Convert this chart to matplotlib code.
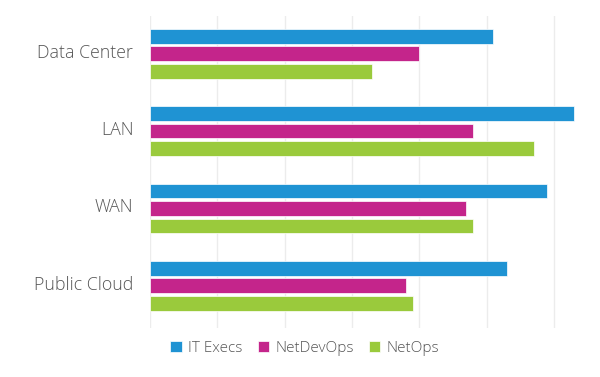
import matplotlib
matplotlib.use('Agg')
import matplotlib.pyplot as plt
import matplotlib.transforms as mtransforms
import numpy as np

plt.rcParams['font.family'] = ['Open Sans', 'DejaVu Sans']

# Data
categories = ['Data Center', 'LAN', 'WAN', 'Public Cloud']
series_names = ['IT Execs', 'NetDevOps', 'NetOps']
it_execs = [51, 63, 59, 53]
netdevops = [40, 48, 47, 38]
netops = [33, 57, 48, 39]
colors = ['#1f93d3', '#c4258b', '#9aca3c']

fig = plt.figure(figsize=(6, 3.77), dpi=100)
ax = fig.add_axes([0.25, 0.13, 0.718, 0.828])

y = np.arange(len(categories))
bar_h = 0.19
offset = 0.227
for i, (vals, name) in enumerate(zip([it_execs, netdevops, netops], series_names)):
    ax.barh(y + (i - 1) * offset, vals, height=bar_h, color=colors[i],
            edgecolor='white', linewidth=0.5, label=name, zorder=3)

ax.set_xlim(0, 64)
ax.set_ylim(3.545, -0.49)
ax.set_xticks(np.arange(0, 61, 10))
ax.set_xticklabels([])
ax.tick_params(axis='x', length=0)
ax.set_yticks(y)
ax.set_yticklabels(categories, fontsize=12.8, color='#555555', fontweight='light')
ax.tick_params(axis='y', length=0, pad=12)
# category labels sit slightly above the group centre
shift = mtransforms.ScaledTranslation(0, 3 / 100, fig.dpi_scale_trans)
for lab in ax.get_yticklabels():
    lab.set_transform(lab.get_transform() + shift)
ax.grid(axis='x', color='#ececec', linewidth=1, zorder=0)
for s in ax.spines.values():
    s.set_visible(False)

fig.legend(loc='center', bbox_to_anchor=(0.508, 0.075), ncol=3, frameon=False,
           handlelength=0.75, handleheight=0.75, handletextpad=0.4,
           columnspacing=1.0, labelcolor='#555555',
           prop={'weight': 'light', 'size': 11})

fig.savefig('out.png', dpi=100)
